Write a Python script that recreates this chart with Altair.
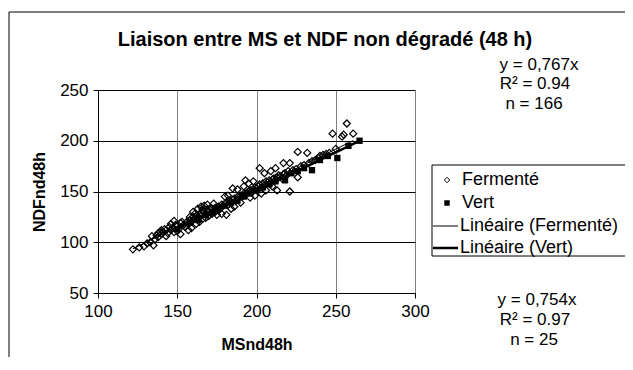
import altair as alt
import pandas as pd

# ---------------- data ----------------
ferm_x = [122, 126, 129, 131, 133, 134, 135, 136, 137, 138, 138, 139, 140, 140,
          141, 142, 143, 143, 144, 145, 146, 146, 147, 148, 148, 149, 150, 150, 151, 152, 152, 153, 154, 155,
          156, 157, 157, 158, 158, 159, 159, 160, 160, 161, 161, 162, 162, 163, 163, 164, 164, 165, 165, 166,
          166, 166, 167, 167, 168, 168, 169, 169, 170, 170, 171, 171, 172, 172, 173, 173, 174, 174, 175, 175,
          176, 177, 178, 178, 179, 180, 180, 181, 181, 182, 182, 183, 184, 184, 185, 185, 186, 186, 187, 188,
          188, 189, 190, 190, 191, 192, 192, 193, 193, 194, 195, 195, 196, 196, 197, 198, 198, 199, 199, 200,
          201, 202, 202, 203, 203, 204, 205, 205, 206, 206, 207, 208, 209, 209, 210, 210, 211, 212, 212, 213,
          213, 214, 215, 216, 217, 217, 218, 219, 220, 221,
          221, 223, 225, 226, 226, 228, 230, 232, 233, 235, 237, 239, 240, 242, 244, 246, 248, 250, 254, 255,
          257, 261]
ferm_y = [93, 95, 96, 99, 100, 106, 97, 103, 107, 105, 109, 110, 112, 108,
          110, 113, 112, 106, 109, 115, 112, 118, 114, 110, 121, 117, 116, 111, 113, 119, 108, 120, 117, 115,
          120, 118, 112, 122, 125, 121, 114, 125, 130, 123, 128, 126, 118, 124, 133, 127, 120, 126, 135, 128,
          123, 132, 130, 136, 127, 124, 131, 137, 130, 126, 129, 134, 133, 128, 131, 138, 134, 130, 132, 127,
          135, 133, 137, 128, 136, 138, 145, 139, 127, 137, 146, 141, 140, 133, 142, 153, 143, 135, 141, 145,
          152, 144, 146, 139, 145, 148, 155, 147, 161, 149, 150, 158, 151, 144, 149, 152, 160, 154, 146, 153,
          155, 157, 173, 154, 148, 158, 156, 168, 160, 151, 159, 161, 158, 170, 162, 155, 163, 161, 173, 164,
          151, 166, 165, 163, 167, 178, 168, 166, 170, 150,
          178, 171, 172, 189, 164, 175, 176, 188, 178, 180, 181, 183, 185, 186, 187, 188, 207, 192, 204, 206,
          217, 207]
vert_x = [150, 158, 163, 168, 172, 176, 180, 184, 188, 192, 196, 200, 204, 208, 212, 218, 222, 226, 230,
          235, 240, 245, 251, 258, 265]
vert_y = [113, 119, 122, 127, 130, 133, 136, 139, 141, 145, 148, 151, 154, 157, 160, 161, 168, 170, 173,
          171, 181, 185, 183, 195, 200]
slope_ferm = 0.767
slope_vert = 0.754

x_ticks = [100, 150, 200, 250, 300]
y_ticks = [50, 100, 150, 200, 250]

title_text = "Liaison entre MS et NDF non dégradé (48 h)"
x_title = "MSnd48h"
y_title = "NDFnd48h"
ann_ferm = ["y = 0,767x", "R² = 0.94", "n = 166"]
ann_vert = ["y = 0,754x", "R² = 0.97", "n = 25"]
legend_labels = ["Fermenté", "Vert", "Linéaire (Fermenté)", "Linéaire (Vert)"]

# ---------------- tables ----------------
ferm = pd.DataFrame({"x": ferm_x, "y": ferm_y})
vert = pd.DataFrame({"x": vert_x, "y": vert_y})
trend_f = pd.DataFrame({"x": [min(ferm_x), max(ferm_x)],
                        "y": [slope_ferm * min(ferm_x), slope_ferm * max(ferm_x)]})
trend_v = pd.DataFrame({"x": [min(vert_x), max(vert_x)],
                        "y": [slope_vert * min(vert_x), slope_vert * max(vert_x)]})
one = pd.DataFrame({"a": [0]})

FONT = "Liberation Sans"
W, H = 317, 203

xs = alt.Scale(domain=[100, 300], nice=False, zero=False)
ys = alt.Scale(domain=[50, 250], nice=False, zero=False)

x_axis = alt.Axis(values=x_ticks, grid=True, gridColor="#808080", gridWidth=1,
                  domainColor="black", tickColor="black", tickSize=5,
                  labelFont=FONT, labelFontSize=17, labelColor="black", labelPadding=5,
                  labelFlush=False, title=x_title, titleFont=FONT, titleFontSize=16,
                  titleFontWeight="bold", titleColor="black", titlePadding=17)
y_axis = alt.Axis(values=y_ticks, grid=True, gridColor="black", gridWidth=1,
                  domainColor="black", tickColor="black", tickSize=5,
                  labelFont=FONT, labelFontSize=17, labelColor="black", labelPadding=5,
                  labelFlush=False, title=y_title, titleFont=FONT, titleFontSize=16,
                  titleFontWeight="bold", titleColor="black", titlePadding=12)

X = alt.X("x:Q", scale=xs, axis=x_axis)
Y = alt.Y("y:Q", scale=ys, axis=y_axis)


def txt(s, x, y, size=17, bold=False, align="center"):
    return alt.Chart(one).mark_text(
        text=s, font=FONT, fontSize=size, fontWeight="bold" if bold else "normal",
        align=align, baseline="middle", color="black"
    ).encode(x=alt.value(x), y=alt.value(y))


border = alt.Chart(one).mark_rect(fill="transparent", stroke="black", strokeWidth=1).encode(
    x=alt.value(-89), x2=alt.value(640), y=alt.value(-78), y2=alt.value(400))

pts_f = alt.Chart(ferm).mark_point(shape="diamond", filled=False, stroke="black",
                                   strokeWidth=1.2, size=50, opacity=1).encode(x=X, y=Y)
pts_v = alt.Chart(vert).mark_point(shape="square", filled=True, color="black",
                                   size=40, opacity=1).encode(x=X, y=Y)
line_f = alt.Chart(trend_f).mark_line(color="black", strokeWidth=1).encode(x=X, y=Y)
line_v = alt.Chart(trend_v).mark_line(color="black", strokeWidth=2.5).encode(x=X, y=Y)

title = txt(title_text, 227, -50, size=20, bold=True)
ann = [txt(ann_ferm[0], 441, -25), txt(ann_ferm[1], 437, -6), txt(ann_ferm[2], 436, 14),
       txt(ann_vert[0], 439, 210), txt(ann_vert[1], 437, 230), txt(ann_vert[2], 436, 250)]

leg_box = alt.Chart(one).mark_rect(fill="white", stroke="black", strokeWidth=1).encode(
    x=alt.value(334), x2=alt.value(640), y=alt.value(75), y2=alt.value(166))
leg_d = alt.Chart(one).mark_point(shape="diamond", filled=False, stroke="black",
                                  strokeWidth=1, size=30, opacity=1).encode(
    x=alt.value(349), y=alt.value(90))
leg_s = alt.Chart(one).mark_point(shape="square", filled=True, color="black",
                                  size=30, opacity=1).encode(
    x=alt.value(349), y=alt.value(113))
leg_l1 = alt.Chart(one).mark_rule(color="black", strokeWidth=1).encode(
    x=alt.value(335), x2=alt.value(360), y=alt.value(136))
leg_l2 = alt.Chart(one).mark_rule(color="black", strokeWidth=2.5).encode(
    x=alt.value(335), x2=alt.value(360), y=alt.value(158))
leg_t = [txt(legend_labels[0], 364, 90, size=18, align="left"),
         txt(legend_labels[1], 364, 113, size=18, align="left"),
         txt(legend_labels[2], 362, 136, size=18, align="left"),
         txt(legend_labels[3], 362, 158, size=18, align="left")]

chart = alt.layer(
    border, pts_f, pts_v, line_f, line_v, title, *ann, leg_box, leg_d, leg_s, leg_l1, leg_l2, *leg_t
).properties(
    width=W, height=H,
    autosize=alt.AutoSizeParams(type="none"),
    padding={"left": 90, "top": 82, "right": 210, "bottom": 64},
    background="white",
).configure_view(strokeWidth=0)

chart.save("out.html", embed_options={"renderer": "svg", "actions": False})
